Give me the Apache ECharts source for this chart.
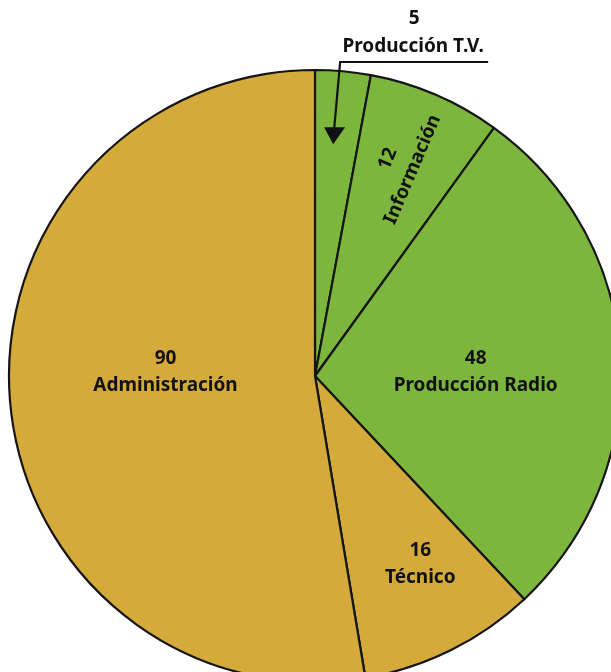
<!DOCTYPE html>
<html>
<head>
<meta charset="utf-8">
<script src="https://cdn.jsdelivr.net/npm/echarts@6/dist/echarts.min.js"></script>
<style>html,body{margin:0;padding:0;background:#fff;}#c{width:611px;height:672px;}</style>
</head>
<body>
<div id="c"></div>
<script>
const categories = ['Producción T.V.', 'Información', 'Producción Radio', 'Técnico', 'Administración'];
const values = [5, 12, 48, 16, 90];
const sliceColors = ['#7db63c', '#7db63c', '#7db63c', '#d4aa3a', '#d4aa3a'];

const CX = 315, CY = 376, R = 306;
const FONT = '"Noto Sans", sans-serif';
const total = values.reduce((a, b) => a + b, 0);

const chart = echarts.init(document.getElementById('c'), null, {renderer: 'canvas'});

const mainData = categories.map((name, i) => ({
  name, value: values[i],
  itemStyle: {color: sliceColors[i]},
  label: {show: name === 'Administración' || name === 'Producción Radio'}
}));
const ringData = categories.map((name, i) => ({
  name, value: values[i],
  label: {
    show: name === 'Técnico' || name === 'Información',
    rotate: name === 'Información' ? 'radial' : 0
  }
}));

// small nudges of label positions (px, in the label's own frame)
const labelNudge = {
  'Administración': [6, -17],
  'Producción Radio': [5, 6],
  'Técnico': [9, -7],
  'Información': [11, -5]
};

// callout for the smallest slice (computed from the slice's mid angle)
const midAng = 0.85 * (values[0] / 2) / total * 2 * Math.PI;
const tipR = 0.76 * R;
const tipX = CX + Math.sin(midAng) * tipR;
const tipY = CY - Math.cos(midAng) * tipR;
const lineTopY = CY - R - 8;
const lineStartX = tipX + 7;
const underlineEnd = lineStartX + 148;

const labelRich = {
  v: {fontFamily: FONT, fontSize: 19, color: '#111', lineHeight: 27, fontWeight: 'bold'},
  n: {fontFamily: FONT, fontSize: 19, color: '#111', lineHeight: 27, fontWeight: 'bold'}
};

function nudge(params) {
  const d = labelNudge[categories[params.dataIndex]];
  return d ? {dx: d[0], dy: d[1]} : {};
}

chart.setOption({
  animation: false,
  series: [
    {
      type: 'pie',
      center: [CX, CY],
      radius: [0, R],
      startAngle: 90,
      clockwise: true,
      silent: true,
      data: mainData,
      itemStyle: {borderColor: '#151515', borderWidth: 2.2},
      label: {
        position: 'inside',
        formatter: p => '{v|' + p.value + '}\n{n|' + p.name + '}',
        rich: labelRich
      },
      labelLayout: nudge,
      labelLine: {show: false}
    },
    {
      type: 'pie',
      center: [CX, CY],
      radius: [0.4 * R, R],
      startAngle: 90,
      clockwise: true,
      silent: true,
      data: ringData,
      itemStyle: {color: 'rgba(0,0,0,0)', borderWidth: 0},
      label: {
        position: 'inside',
        formatter: p => '{v|' + p.value + '}\n{n|' + p.name + '}',
        rich: labelRich
      },
      labelLayout: nudge,
      labelLine: {show: false}
    }
  ],
  graphic: [
    {type: 'text', z: 100, x: (lineStartX + underlineEnd) / 2, y: 9,
      style: {text: String(values[0]), font: 'bold 19px ' + FONT, fill: '#111', textAlign: 'center'}},
    {type: 'text', z: 100, x: (lineStartX + underlineEnd) / 2 - 1, y: 37,
      style: {text: categories[0], font: 'bold 19px ' + FONT, fill: '#111', textAlign: 'center'}},
    {type: 'polyline', z: 100, shape: {points: [[underlineEnd, lineTopY], [lineStartX, lineTopY], [tipX + 1, tipY - 15]]},
      style: {stroke: '#111', lineWidth: 2.2, fill: null}},
    {type: 'polygon', z: 100, shape: {points: [[tipX - 9, tipY - 17], [tipX + 12, tipY - 17], [tipX, tipY]]},
      style: {fill: '#111'}}
  ]
});
</script>
</body>
</html>
